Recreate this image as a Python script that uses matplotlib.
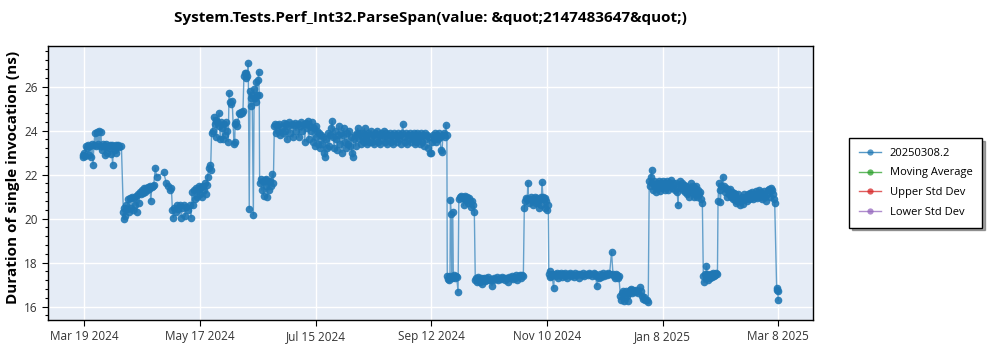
import datetime as dt
import matplotlib
matplotlib.use("Agg")
import matplotlib.pyplot as plt
import matplotlib.dates as mdates
from matplotlib.ticker import MultipleLocator

plt.rcParams['font.family'] = ['Open Sans', 'DejaVu Sans']

TITLE = "System.Tests.Perf_Int32.ParseSpan(value: &quot;2147483647&quot;)"
Y_LABEL = "Duration of single invocation (ns)"
SERIES = ["20250308.2", "Moving Average", "Upper Std Dev", "Lower Std Dev"]
SERIES_COLORS = ["#1f77b4", "#2ca02c", "#d62728", "#9467bd"]
BASE_DATE = dt.datetime(2024, 3, 18)
TICK_DATES = ["2024-03-19", "2024-05-17", "2024-07-15", "2024-09-12",
              "2024-11-10", "2025-01-08", "2025-03-08"]

# (days since BASE_DATE, duration ns)
seg_a = [(0.3, 22.9), (0.6, 22.8), (1, 23.0), (1.5, 22.85), (2, 23.3), (2.5, 23.2), (3, 23.35),
         (3.5, 22.9), (4, 23.3), (4.5, 22.8), (5, 23.4), (5.5, 22.45), (6, 23.35), (6.5, 23.9),
         (7, 23.3), (7.5, 23.95), (8, 23.4), (8.5, 24.0), (9, 23.3), (9.5, 23.95), (10, 23.1),
         (10.5, 23.4), (11, 23.3), (11.5, 22.9), (12, 23.4), (12.5, 23.0), (13, 23.3), (13.5, 23.2),
         (14, 23.35), (14.5, 22.95), (15, 23.35), (15.5, 22.45), (16, 23.3), (16.5, 23.1),
         (17, 23.35), (17.5, 23.0), (18, 23.3), (18.5, 23.35), (19, 23.25), (20, 23.3)]
seg_b = [(21, 20.3), (21.2, 19.98), (21.5, 20.5), (22, 20.1), (22.5, 20.6), (23, 20.45),
         (23.5, 20.9), (24, 20.3), (24.5, 20.95), (25, 20.5), (25.5, 21.0), (26, 20.4),
         (26.5, 20.95), (27, 20.6), (27.5, 21.05), (28, 20.3), (28.5, 21.1), (29, 20.7),
         (29.5, 21.2), (30, 21.1), (30.5, 21.3), (31, 21.15), (31.5, 21.4), (32, 21.2),
         (32.5, 21.4), (33, 21.3), (33.5, 21.45), (34, 21.35), (34.5, 21.5), (35, 20.8),
         (35.5, 21.45), (36, 21.5), (36.5, 21.55), (37.3, 22.3), (38, 21.9), (41.5, 22.1),
         (43, 21.6), (44, 21.5), (45, 21.3), (45.5, 21.4)]
seg_c = [(46, 20.4), (46.5, 20.05), (47, 20.5), (48, 20.3), (48.5, 20.6), (49, 20.45),
         (50, 20.6), (50.5, 20.05), (51, 20.5), (52, 20.6), (52.5, 20.1), (53, 20.55),
         (54, 20.4), (55, 20.6), (55.5, 20.05), (56, 21.2), (56.5, 20.6), (57, 21.3),
         (57.5, 20.9), (58, 21.4), (58.5, 21.0), (59, 21.3), (59.5, 21.5), (60, 21.1),
         (60.5, 21.45), (61, 21.0), (61.5, 21.5), (62, 21.3), (62.5, 21.6), (63, 21.1),
         (63.5, 21.55), (64, 21.9), (64.5, 22.3), (65, 22.45), (65.5, 22.2)]
seg_d = [(66, 23.9), (66.5, 24.0), (67, 24.6), (67.5, 24.3), (68, 24.5), (68.5, 23.7),
         (69, 24.4), (69.8, 24.8), (70, 24.2), (70.5, 23.6), (71, 24.4), (71.5, 24.1),
         (72, 23.6), (72.5, 24.3), (73, 23.8), (73.5, 24.4), (74, 24.0), (74.5, 23.5),
         (74.9, 25.7), (75.5, 25.3), (76, 25.2), (76.5, 25.35), (77.4, 23.4), (77.8, 23.5),
         (78, 24.3), (78.5, 24.4), (79, 24.2), (80, 24.8), (80.5, 24.75), (81, 24.85),
         (81.5, 24.8), (82, 24.9), (82.5, 26.5), (83, 26.6), (83.3, 26.4), (83.7, 26.6),
         (84.3, 26.5), (84.7, 27.05), (85.2, 20.45), (85.6, 25.8), (86, 25.5), (86.3, 25.1),
         (86.7, 25.6), (87.3, 20.17), (87.7, 25.9), (88, 25.5), (88.4, 25.3), (88.8, 26.2),
         (89.2, 25.6), (89.6, 26.3), (90, 26.67), (90.3, 25.6)]
seg_e = [(90.5, 21.6), (91, 21.8), (91.5, 21.3), (92, 21.7), (92.5, 21.05), (93, 21.75),
         (93.5, 21.5), (94, 21.8), (94.5, 21.0), (95, 21.7), (95.5, 21.3), (96, 21.7),
         (96.5, 21.5), (97, 22.05), (97.5, 21.6)]
seg_f = [(98, 24.2), (98.5, 24.3), (99, 23.9), (99.5, 24.25), (100, 24.0), (100.5, 24.3),
         (101, 23.8), (102, 24.1), (102.5, 23.9), (103, 24.35), (103.5, 24.0), (104, 24.3),
         (104.5, 23.6), (105, 24.2), (105.5, 24.4), (106, 23.9), (107, 24.3), (107.5, 23.7),
         (108, 24.25), (108.5, 24.35), (109, 24.0), (110, 24.3), (110.5, 23.7), (111, 24.2),
         (111.5, 24.4), (112, 24.0), (113, 24.3), (113.5, 23.5), (114, 24.35), (114.5, 24.1),
         (115, 24.45), (115.5, 23.6), (116, 24.2), (116.5, 24.0), (117, 24.4), (117.5, 23.5),
         (118, 24.1), (118.5, 23.3), (119, 24.2), (119.5, 23.7), (120, 24.0), (120.5, 23.4),
         (121, 23.9), (121.5, 23.2), (122, 23.8), (122.5, 23.4), (123, 23.7), (123.5, 23.0),
         (124, 22.8), (124.5, 23.6), (125, 23.2), (125.5, 23.9), (126, 23.3), (126.5, 23.8),
         (127, 24.1), (127.5, 24.45), (128, 23.7), (128.5, 23.2), (129, 24.0), (129.5, 23.6),
         (130, 23.1), (130.5, 23.8), (131, 24.2), (131.5, 23.4), (132, 23.9), (132.5, 23.0),
         (133, 23.8), (133.5, 24.1), (134, 23.5), (134.5, 23.2), (135, 23.9), (135.5, 23.4),
         (136, 24.0), (136.5, 23.3), (137, 23.7), (137.5, 23.0), (138, 22.8), (138.5, 23.6),
         (139, 23.8), (139.5, 23.3), (140, 23.9), (140.5, 24.1), (141, 23.6), (141.5, 23.9),
         (142, 23.4), (142.5, 23.7), (143, 23.9), (143.5, 23.5), (144, 24.1), (144.5, 23.6),
         (145, 23.8), (145.5, 23.4), (146, 23.9), (146.5, 23.5), (147, 23.8), (147.5, 24.0),
         (148, 23.5), (148.5, 23.8), (149, 23.4), (149.5, 23.9), (150, 23.6), (150.5, 24.0),
         (151, 23.5), (151.5, 23.8), (152, 23.4), (152.5, 23.9), (153, 23.6), (153.5, 23.8),
         (154, 24.0), (154.5, 23.5), (155, 23.9), (155.5, 23.4), (156, 23.8), (156.5, 23.6),
         (157, 23.9), (157.5, 23.5), (158, 23.8), (158.5, 23.4), (159, 23.9), (159.5, 23.6),
         (160, 23.8), (160.5, 23.5), (161, 23.9), (161.5, 23.6), (162, 23.8), (162.5, 23.4),
         (163, 23.9), (163.5, 24.3), (164, 23.7), (164.5, 23.5), (165, 23.9), (165.5, 23.4),
         (166, 23.8), (166.5, 23.6), (167, 23.9), (167.5, 23.5), (168, 23.8), (168.5, 23.6),
         (169, 23.9), (169.5, 23.4), (170, 23.8), (170.5, 23.5), (171, 23.9), (171.5, 23.6),
         (172, 23.7), (172.5, 23.4), (173, 23.9), (173.5, 23.5), (174, 23.8), (174.5, 23.3),
         (175, 23.9), (175.5, 23.6), (176, 23.8), (176.5, 23.2), (177, 23.7), (177.5, 23.0),
         (178, 22.97), (178.5, 23.5), (179, 23.8), (179.5, 23.6), (180, 23.9), (180.5, 23.5),
         (181, 23.8), (181.5, 23.6), (182, 23.9), (182.5, 23.7), (183, 23.1), (183.5, 23.05),
         (184, 23.8), (184.5, 23.9), (185, 23.7), (185.5, 24.27), (186, 23.8)]
seg_g = [(186.2, 17.4), (186.6, 17.25), (187, 17.35), (187.3, 17.2), (187.6, 17.4),
         (187.8, 20.85), (188.2, 20.2), (188.5, 17.3), (189, 20.3), (189.3, 17.35),
         (189.7, 17.45), (190, 17.3), (190.5, 17.4), (191, 17.35), (191.7, 16.68)]
seg_h = [(192.1, 20.9), (192.6, 21.0), (193, 21.05), (193.5, 20.95), (194, 21.0),
         (194.5, 20.6), (195, 20.9), (195.5, 21.05), (196, 20.85), (196.5, 21.0), (197, 20.7),
         (197.5, 20.95), (198, 20.8), (198.5, 20.55), (199, 20.8), (199.5, 20.6), (200, 20.3)]
seg_i = [(200.5, 17.2), (201, 17.3), (201.5, 17.1), (202, 17.35), (202.5, 17.2), (203, 17.1),
         (203.5, 17.3), (204, 17.05), (204.5, 17.25), (205, 17.3), (205.5, 17.15), (206, 17.3),
         (206.5, 17.2), (207, 17.35), (208, 17.2), (208.5, 17.25), (209, 16.95), (209.5, 17.2),
         (210, 17.3), (211, 17.25), (211.5, 17.35), (212, 17.2), (213, 17.3), (213.5, 17.25),
         (214, 17.35), (215, 17.3), (215.5, 17.2), (216, 17.3), (217, 17.1), (217.5, 17.35),
         (218, 17.3), (219, 17.4), (219.5, 17.25), (220, 17.35), (221, 17.3), (221.5, 17.45),
         (222, 17.2), (223, 17.4), (223.5, 17.45), (224, 17.3), (224.5, 17.45), (225, 17.4)]
seg_j = [(225.5, 20.5), (226, 20.8), (226.5, 20.95), (227, 20.9), (227.3, 21.64),
         (227.8, 20.7), (228.3, 20.9), (228.8, 21.0), (229.3, 20.85), (229.8, 20.6),
         (230.3, 20.9), (230.8, 21.0), (231.3, 20.7), (231.8, 20.95), (232.3, 20.8),
         (232.8, 20.5), (233.3, 20.9), (233.8, 21.0), (234.1, 20.6), (234.5, 21.66),
         (235, 21.0), (235.4, 20.9), (235.8, 20.5), (236.3, 20.95), (236.8, 20.8),
         (237.3, 20.4), (237.7, 20.6)]
seg_k = [(238, 17.5), (238.4, 17.35), (238.8, 17.6), (239.2, 17.4), (239.6, 17.5),
         (240.4, 16.85), (241, 17.5), (241.5, 17.4), (242, 17.55), (242.5, 17.3), (243, 17.5),
         (243.5, 17.45), (244, 17.55), (244.5, 17.35), (245, 17.5), (246, 17.4), (246.5, 17.55),
         (247, 17.45), (247.5, 17.3), (248, 17.5), (249, 17.55), (249.5, 17.4), (250, 17.5),
         (251, 17.35), (251.5, 17.55), (252, 17.45), (253, 17.5), (253.5, 17.3), (254, 17.5),
         (255, 17.45), (255.5, 17.55), (256, 17.4), (257, 17.5), (258, 17.45), (258.5, 17.55),
         (259, 17.5), (260, 17.4), (261, 17.55), (261.5, 17.5), (262, 17.4), (262.4, 16.95),
         (263.5, 17.3), (264, 17.5), (264.5, 17.35), (265, 17.45), (265.5, 17.55), (266, 17.4),
         (267, 17.5), (267.5, 17.45), (268, 17.55), (268.5, 17.5), (269, 17.5), (270, 18.5),
         (270.7, 17.5), (271.2, 17.4), (271.7, 17.3), (272.2, 17.5), (272.7, 17.45),
         (273.2, 17.3), (273.7, 17.4)]
seg_l = [(274.5, 16.5), (275, 16.3), (275.5, 16.6), (276, 16.7), (276.5, 16.25), (277, 16.55),
         (277.5, 16.7), (278, 16.5), (278.5, 16.25), (279, 16.6), (279.5, 16.75), (280, 16.8),
         (280.5, 16.6), (281, 16.75), (281.5, 16.7), (282, 16.65), (282.5, 16.75), (283, 16.7),
         (283.5, 16.6), (284.4, 16.9), (284.8, 16.7), (285.5, 16.5), (286, 16.35),
         (286.5, 16.45), (287, 16.3), (288, 16.3), (288.7, 16.23)]
seg_m = [(289.2, 21.7), (289.6, 21.5), (290, 21.9), (290.4, 22.2), (290.8, 21.6), (291.2, 21.3),
         (291.6, 21.7), (292, 21.5), (292.5, 21.2), (293, 21.6), (293.5, 21.4), (294, 21.7),
         (294.5, 21.25), (295, 21.6), (295.5, 21.4), (296, 21.7), (296.5, 21.5), (297, 21.3),
         (297.5, 21.6), (298, 21.45), (298.5, 21.7), (299, 21.3), (299.5, 21.6), (300, 21.5),
         (300.5, 21.75), (301, 21.4), (301.5, 21.6), (302.5, 21.3), (303, 21.6), (303.5, 21.2),
         (303.9, 20.6), (304.3, 21.5), (304.8, 21.7), (305.3, 21.4), (305.8, 21.6),
         (306.3, 21.3), (306.8, 21.55), (307.3, 21.2), (307.8, 21.5), (308.3, 21.1),
         (308.8, 21.4), (309.3, 21.0), (309.8, 21.3), (310.3, 21.6), (310.8, 21.2),
         (311.3, 21.5), (311.8, 21.0), (312.3, 21.4), (312.8, 21.1), (313.3, 21.5),
         (313.8, 21.0), (314.3, 21.3), (314.8, 21.1), (315.3, 21.2), (315.8, 20.9), (316.3, 20.7)]
seg_n = [(316.8, 17.4), (317.2, 17.1), (317.6, 17.5), (318, 17.3), (318.4, 17.85),
         (318.8, 17.5), (319.2, 17.2), (319.6, 17.45), (320, 17.3), (320.5, 17.5),
         (321, 17.35), (321.5, 17.55), (322, 17.4), (322.5, 17.5), (323, 17.45),
         (323.5, 17.55), (324, 17.5)]
seg_o = [(324.3, 20.8), (324.7, 21.6), (325.1, 21.3), (325.5, 20.75), (326, 21.5),
         (326.8, 21.9), (327.2, 21.5), (327.7, 21.2), (328.2, 21.4), (328.7, 21.0),
         (329.2, 21.3), (329.7, 21.1), (330.2, 21.35), (330.7, 21.0), (331.2, 21.2),
         (331.7, 20.9), (332.2, 21.15), (332.7, 20.85), (333.2, 21.1), (333.7, 20.7),
         (334.2, 20.8), (334.7, 21.1), (335.2, 20.9), (335.7, 20.6), (336.2, 20.8),
         (336.7, 21.0), (337.2, 20.65), (337.7, 21.1), (338.2, 20.9), (338.7, 21.0),
         (339.2, 20.8), (339.7, 21.1), (340.2, 20.9), (340.7, 21.15), (341.2, 20.95),
         (341.7, 21.2), (342.2, 20.9), (342.7, 21.1), (343.2, 21.0), (343.7, 21.25),
         (344.2, 20.95), (344.7, 21.1), (345.2, 21.3), (345.7, 21.0), (346.2, 21.2),
         (346.7, 20.9), (347.2, 21.1), (347.7, 21.25), (348.2, 21.0), (348.7, 20.8),
         (349.2, 21.1), (349.7, 21.3), (350.2, 21.35), (350.7, 21.0), (351.2, 21.4),
         (351.7, 21.3), (352.2, 21.1), (352.7, 20.9), (353.2, 20.7)]
seg_p = [(354.2, 16.85), (354.5, 16.75), (354.8, 16.7), (355, 16.3)]

segments = [seg_a, seg_b, seg_c, seg_d, seg_e, seg_f, seg_g, seg_h,
            seg_i, seg_j, seg_k, seg_l, seg_m, seg_n, seg_o, seg_p]
points = [p for seg in segments for p in seg]
dates = [BASE_DATE + dt.timedelta(days=d) for d, _ in points]
durations = [v for _, v in points]

fig = plt.figure(figsize=(10, 3.5), dpi=100)
ax = fig.add_axes([0.048, 0.086, 0.765, 0.783])
ax.set_facecolor("#e5ecf6")

# main series: translucent connecting line + solid markers
ax.plot(dates, durations, color=SERIES_COLORS[0], lw=1.0, alpha=0.65, zorder=3)
ax.plot(dates, durations, color=SERIES_COLORS[0], lw=0, alpha=0.9,
        marker="o", markersize=5.5, markeredgewidth=0, zorder=4)
for name, col in zip(SERIES, SERIES_COLORS):
    ax.plot([], [], color=col, lw=1.0, alpha=0.75, marker="o", markersize=4.5,
            markeredgewidth=0, label=name)

ticks = [mdates.date2num(dt.datetime.strptime(t, "%Y-%m-%d")) for t in TICK_DATES]
ax.set_xticks(ticks)
ax.xaxis.set_major_formatter(mdates.DateFormatter("%b %-d %Y"))
ax.set_ylim(15.4, 27.85)
ax.yaxis.set_major_locator(MultipleLocator(2))
ax.yaxis.set_minor_locator(MultipleLocator(0.4))

ax.grid(True, which="major", color="white", lw=1.0)
ax.set_axisbelow(True)
for s in ax.spines.values():
    s.set_color("black")
    s.set_linewidth(1.0)
ax.tick_params(axis="both", which="major", labelsize=8.5, labelcolor="#333333",
               length=4, width=0.8)
ax.tick_params(axis="y", which="minor", length=2, width=0.8)

ax.set_ylabel(Y_LABEL, fontsize=11, fontweight="bold", labelpad=4)
ax.yaxis.set_label_coords(-0.036, 0.52)
ax.set_title(TITLE, fontsize=11, fontweight="bold", pad=17)

leg = ax.legend(loc="center left", bbox_to_anchor=(1.04, 0.5), fontsize=8,
                frameon=True, fancybox=False, shadow=True, edgecolor="black",
                borderpad=0.85, labelspacing=0.8, handlelength=2.0)
leg.get_frame().set_linewidth(1.0)

fig.savefig("out.png", dpi=100)
